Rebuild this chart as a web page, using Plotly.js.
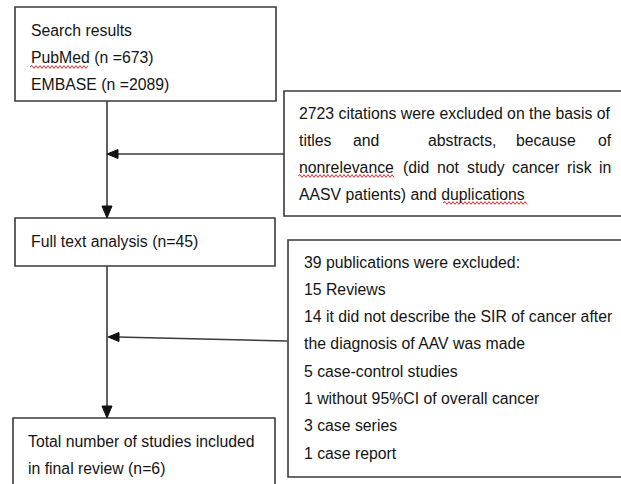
<!DOCTYPE html>
<html>
<head>
<meta charset="utf-8">
<script src="https://cdn.plot.ly/plotly-3.0.1.min.js"></script>
<style>html,body{margin:0;padding:0;background:#fff;}#chart{width:621px;height:484px;}</style>
</head>
<body>
<div id="chart"></div>
<script>
// Flowchart content
var searchLines = ["Search results", "PubMed (n =673)", "EMBASE (n =2089)"];
var excludedCitationLines = [
  "2723 citations were excluded on the basis of",
  ["titles", "and", "abstracts,", "because", "of"],
  ["nonrelevance", "(did", "not", "study", "cancer", "risk", "in"],
  "AASV patients) and duplications"
];
var fullTextLines = ["Full text analysis (n=45)"];
var excludedPubLines = [
  "39 publications were excluded:",
  "15 Reviews",
  "14 it did not describe the SIR of cancer after",
  "the diagnosis of AAV was made",
  "5 case-control studies",
  "1 without 95%CI of overall cancer",
  "3 case series",
  "1 case report"
];
var finalLines = ["Total number of studies included", "in final review (n=6)"];

var FONT = {family: "Liberation Sans, Arial, sans-serif", size: 15.8, color: "#141414"};
var LINE = {color: "#3a3a3a", width: 1.6};
var LH = 27.3;

// horizontal offsets of words in the justified lines (layout, not data)
var justifyOffsets = {
  5: [0, 54, 129, 217, 299],
  7: [0, 104, 138, 168, 213, 268, 300]
};

var shapes = [];
var annotations = [];

function box(x0, y0, x1, y1) {
  shapes.push({type: "rect", xref: "x", yref: "y", x0: x0, y0: y0, x1: x1, y1: y1, line: LINE, fillcolor: "rgba(0,0,0,0)"});
}
function seg(x0, y0, x1, y1) {
  shapes.push({type: "line", xref: "x", yref: "y", x0: x0, y0: y0, x1: x1, y1: y1, line: LINE});
}
function tri(path) {
  shapes.push({type: "path", xref: "x", yref: "y", path: path, fillcolor: "#111", line: {color: "#111", width: 1}});
}
function squiggle(x0, x1, y) {
  var p = "M" + x0 + "," + y;
  var up = true;
  for (var x = x0 + 2; x <= x1; x += 2) {
    p += " L" + x + "," + (y + (up ? -1.4 : 1.4));
    up = !up;
  }
  shapes.push({type: "path", xref: "x", yref: "y", path: p, line: {color: "#e03030", width: 1}});
}
function text(t, x, y) {
  annotations.push({text: t, x: x, y: y, xref: "x", yref: "y", xanchor: "left", yanchor: "middle",
    showarrow: false, font: FONT, align: "left"});
}
function lines(arr, x, y0) {
  arr.forEach(function (l, i) {
    if (Array.isArray(l)) {
      var offs = justifyOffsets[l.length];
      l.forEach(function (w, j) { text(w, x + offs[j], y0 + i * LH); });
    } else {
      text(l, x, y0 + i * LH);
    }
  });
}

// Boxes
box(15, 7, 276, 101);
box(284, 91, 640, 216);
box(15, 218, 275, 266);
box(288, 240, 640, 477);
box(13, 418, 275, 500);

// Connectors
seg(107, 101, 107, 207);
tri("M102,206 L112,206 L107,218 Z");
seg(107, 266, 107, 407);
tri("M102,406 L112,406 L107,418 Z");
seg(284, 154, 116, 154);
tri("M118,149.5 L118,158.5 L107,154 Z");
seg(287, 341, 117, 337);
tri("M119,332.5 L119,341.5 L108,337 Z");

// Texts
lines(searchLines, 29, 30);
lines(excludedCitationLines, 297, 113);
lines(fullTextLines, 29, 241);
lines(excludedPubLines, 302, 262);
lines(finalLines, 26, 441);

// Spell-check underlines
squiggle(30, 89, 67);
squiggle(298, 395, 176);
squiggle(443, 528, 203);

var layout = {
  width: 621, height: 484,
  margin: {l: 0, r: 0, t: 0, b: 0},
  paper_bgcolor: "#fff", plot_bgcolor: "#fff",
  xaxis: {range: [0, 621], visible: false, fixedrange: true},
  yaxis: {range: [484, 0], visible: false, fixedrange: true},
  shapes: shapes,
  annotations: annotations,
  showlegend: false
};
Plotly.newPlot("chart", [], layout, {displayModeBar: false, staticPlot: true});
</script>
</body>
</html>
